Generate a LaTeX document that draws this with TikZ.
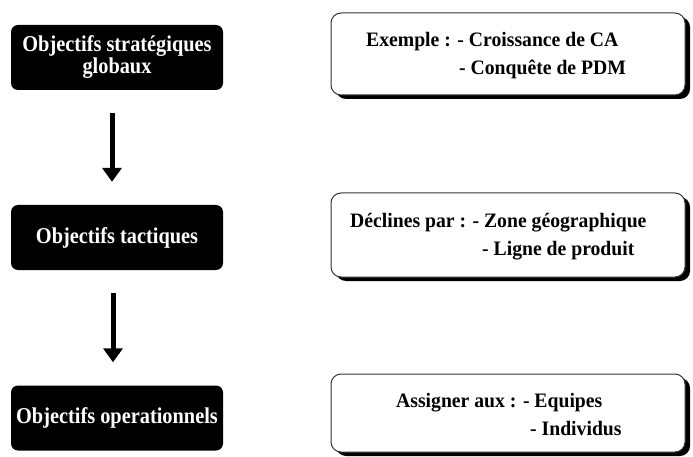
\documentclass[tikz,border=0pt]{standalone}
\usepackage{fontspec}
\usepackage{graphicx}
\setmainfont{Liberation Serif}
\usetikzlibrary{arrows.meta}
\newcommand{\levelface}[1]{\scalebox{0.9}[1]{#1}}
\newcommand{\noteface}[1]{\scalebox{0.96}[1]{#1}}
\begin{document}
\begin{tikzpicture}[x=1pt,y=-1pt,
  levelbox/.style={fill=black,rounded corners=7pt,inner sep=0pt,
    minimum width=212pt,minimum height=65pt,text=white,
    font=\fontsize{22.6}{21}\selectfont\bfseries},
  notebox/.style={draw=black!80,line width=1pt,fill=white,rounded corners=10pt},
  noteshadow/.style={fill=black,rounded corners=10pt},
  notetext/.style={font=\fontsize{20.5}{24}\selectfont\bfseries,anchor=base west,inner sep=0pt},
  flow/.style={line width=5pt,-{Triangle[width=19pt,length=14pt]},shorten <=23pt,shorten >=23pt}]
\useasboundingbox (0,0) rectangle (693,457);

% left column: the three levels of objectives
\node[levelbox] (strat) at (117,57.5)
  {\levelface{\begin{tabular}{@{}c@{}}Objectifs stratégiques\\globaux\end{tabular}}};
\node[levelbox] (tact) at (117,237.5) {\levelface{Objectifs tactiques}};
\node[levelbox] (oper) at (117,418) {\levelface{Objectifs operationnels}};
\draw[flow] ([xshift=-5pt]strat.south) -- ([xshift=-5pt]tact.north);
\draw[flow] ([xshift=-4pt]tact.south) -- ([xshift=-4pt]oper.north);

% right column: notes with a drop shadow
\foreach \yt/\yb/\nm in {13/95/na, 193/277/nb, 374/452/nc}{
  \fill[noteshadow] (336,\yt+4) rectangle (690,\yb+4);
  \filldraw[notebox] (331,\yt) rectangle (685,\yb);
  \coordinate (\nm) at (331,\yt);
}
\node[notetext] (n1a) at (366,47) {\noteface{Exemple : - Croissance de CA}};
\node[notetext] (n1b) at (459,75) {\noteface{- Conquête de PDM}};
\node[notetext] (n2a) at (350,227) {\noteface{Déclines par : - Zone géographique}};
\node[notetext] (n2b) at (482,255) {\noteface{- Ligne de produit}};
\node[notetext] (n3a) at (396,407) {\noteface{Assigner aux : - Equipes}};
\node[notetext] (n3b) at (530,435) {\noteface{- Individus}};
\end{tikzpicture}
\end{document}
